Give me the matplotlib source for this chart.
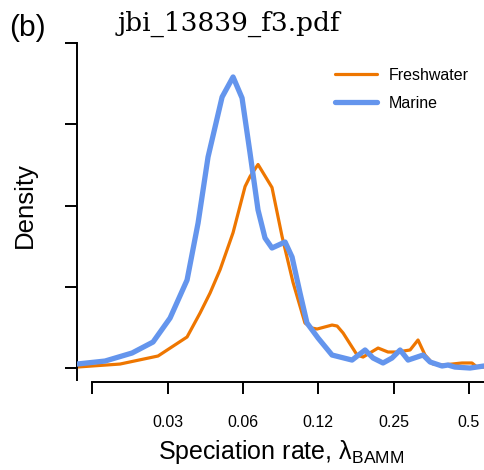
import matplotlib
matplotlib.use('Agg')
import matplotlib.pyplot as plt
import numpy as np

# ========================== DATA ==========================

# Speciation rate (lambda_BAMM) and density for each habitat
MARINE_RATE = [0.01359, 0.01759, 0.02256, 0.02735, 0.03199, 0.03740, 0.04139, 0.04536,
               0.05162, 0.05710, 0.06202, 0.06674, 0.07184, 0.07661, 0.08168, 0.09214,
               0.09824, 0.1057, 0.1127, 0.1248, 0.1419, 0.1528, 0.1706, 0.1923, 0.2070,
               0.2268, 0.2463, 0.2654, 0.2856, 0.3101, 0.3277, 0.3497, 0.3902, 0.4122,
               0.4393, 0.5046, 0.5741]
MARINE_DENSITY = [0.049, 0.086, 0.185, 0.320, 0.615, 1.083, 1.785, 2.597,
                  3.335, 3.582, 3.323, 2.646, 1.945, 1.600, 1.477, 1.551,
                  1.366, 0.923, 0.554, 0.369, 0.160, 0.135, 0.098, 0.222, 0.123,
                  0.062, 0.123, 0.222, 0.098, 0.135, 0.160, 0.074, 0.025, 0.037,
                  0.012, 0.000, 0.025]

FRESHWATER_RATE = [0.01359, 0.02019, 0.02864, 0.03740, 0.04215, 0.04621, 0.05070, 0.05710,
                   0.06377, 0.06674, 0.07184, 0.08168, 0.08961, 0.09913, 0.1106, 0.1180,
                   0.1237, 0.1419, 0.1487, 0.1571, 0.1787, 0.1888, 0.2167, 0.2374, 0.2578,
                   0.2909, 0.3129, 0.3337, 0.3594, 0.3937, 0.4690, 0.5140, 0.5381, 0.5741]
FRESHWATER_DENSITY = [0.012, 0.049, 0.148, 0.382, 0.677, 0.923, 1.212, 1.666,
                      2.234, 2.357, 2.505, 2.222, 1.619, 1.053, 0.554, 0.492,
                      0.480, 0.529, 0.517, 0.431, 0.160, 0.135, 0.246, 0.197, 0.197,
                      0.222, 0.345, 0.160, 0.049, 0.037, 0.062, 0.062, 0.012, 0.012]

X_TICKS = [2 ** -6, 2 ** -5, 2 ** -4, 2 ** -3, 2 ** -2, 2 ** -1]
X_TICK_LABELS = ['', '0.03', '0.06', '0.12', '0.25', '0.5']
Y_TICKS = [0, 1, 2, 3, 4]

ORANGE = '#EE7600'
BLUE = '#6495ED'

# ================================================================================

plt.rcParams['font.family'] = ['Liberation Sans', 'DejaVu Sans']
plt.rcParams['mathtext.fontset'] = 'custom'
plt.rcParams['mathtext.rm'] = 'Liberation Sans'
plt.rcParams['mathtext.it'] = 'Liberation Sans:italic'

W, H = 484, 470
fig = plt.figure(figsize=(W / 100, H / 100), dpi=100)

# axes box in pixels: left 77, right 484, bottom 382, top 43
ax = fig.add_axes([77 / W, (H - 382) / H, (W - 77) / W, (382 - 43) / H])

ax.plot(FRESHWATER_RATE, FRESHWATER_DENSITY, color=ORANGE, lw=2.3,
        solid_joinstyle='round', solid_capstyle='round', label='Freshwater', zorder=2)
ax.plot(MARINE_RATE, MARINE_DENSITY, color=BLUE, lw=3.8,
        solid_joinstyle='round', solid_capstyle='round', label='Marine', zorder=3)

ax.set_xscale('log', base=2)
ax.set_xlim(0.01359, 0.5741)
ax.set_ylim(-0.172, 4.0)

ax.set_xticks(X_TICKS)
ax.set_xticklabels(X_TICK_LABELS)
ax.xaxis.set_minor_locator(matplotlib.ticker.NullLocator())
ax.set_yticks(Y_TICKS)
ax.set_yticklabels([])

for side in ['top', 'right']:
    ax.spines[side].set_visible(False)
ax.spines['left'].set_bounds(-0.148, 4.0)
ax.spines['bottom'].set_bounds(2 ** -6, 0.5741)
for side in ['left', 'bottom']:
    ax.spines[side].set_linewidth(1.4)

ax.tick_params(axis='x', length=8.5, width=1.4, pad=15, labelsize=11.5)
ax.tick_params(axis='y', length=9, width=1.4)

leg = ax.legend(loc='upper left', bbox_to_anchor=(335 / W, 1 - 68 / H),
                bbox_transform=fig.transFigure, frameon=False, fontsize=11.5,
                handlelength=2.6, handletextpad=0.75, labelspacing=0.8,
                borderpad=0, borderaxespad=0)

fig.text(27 / W, 1 - 36 / H, '(b)', fontsize=21.5, ha='center', va='baseline')
fig.text(229 / W, 1 - 31 / H, 'jbi_13839_f3.pdf', fontsize=19, family='DejaVu Serif',
         ha='center', va='baseline')
fig.text(37 / W, 1 - 205 / H, 'Density', fontsize=18.5, rotation=90,
         ha='right', va='center')
fig.text(281 / W, 1 - 459 / H, 'Speciation rate, λ$_{\\mathrm{BAMM}}$',
         fontsize=18, ha='center', va='baseline')

fig.savefig('out.png', dpi=100)
